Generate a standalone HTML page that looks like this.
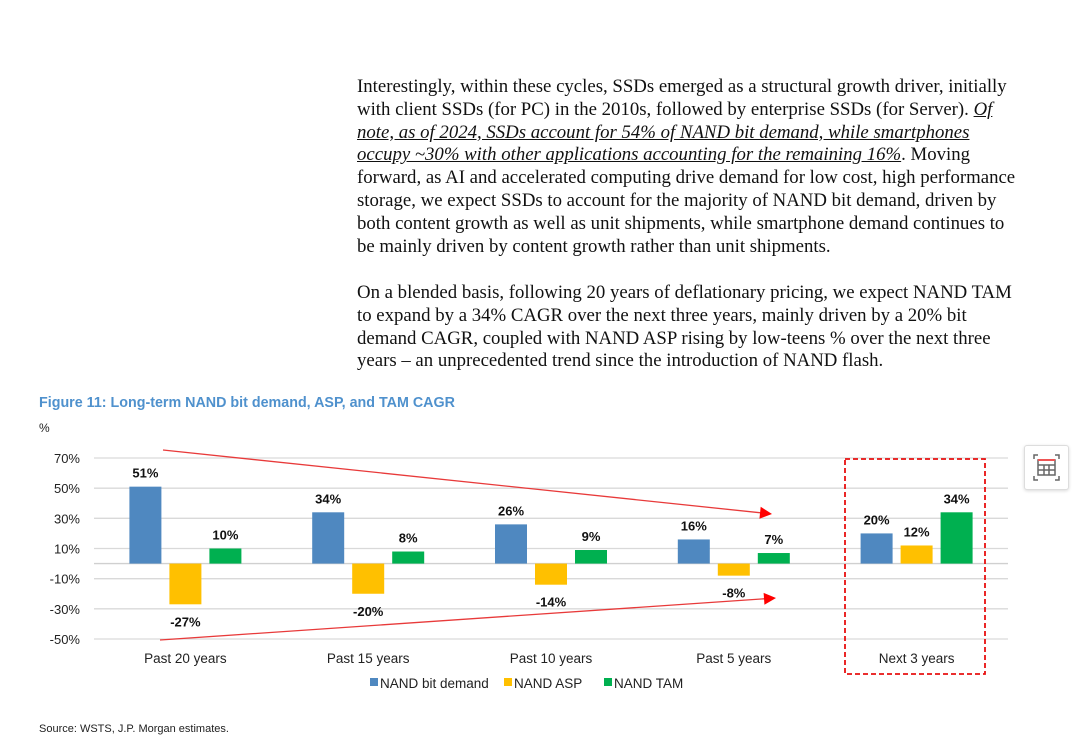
<!DOCTYPE html>
<html><head><meta charset="utf-8">
<style>
body{margin:0;width:1080px;height:755px;background:#fff;position:relative;overflow:hidden;font-family:"Liberation Sans",sans-serif}
.para{position:absolute;left:357px;font-family:"Liberation Serif",serif;font-size:18.8px;line-height:22.8px;color:#111;white-space:nowrap}
.u{font-style:italic;text-decoration:underline}
#title{position:absolute;left:39px;top:395px;font-size:14.3px;font-weight:bold;color:#4f91cd}
#pct{position:absolute;left:39px;top:421px;font-size:12px;color:#222}
#src{position:absolute;left:39px;top:723px;font-size:11px;color:#222}
#icon{position:absolute;left:1024px;top:445px;width:43px;height:43px;border:1px solid #ddd;border-radius:3px;box-shadow:0 1px 3px rgba(0,0,0,.15);background:#fff}
</style></head><body>
<div class="para" style="top:76px">Interestingly, within these cycles, SSDs emerged as a structural growth driver, initially<br>with client SSDs (for PC) in the 2010s, followed by enterprise SSDs (for Server). <span class="u">Of</span><br><span class="u">note, as of 2024, SSDs account for 54% of NAND bit demand, while smartphones</span><br><span class="u">occupy ~30% with other applications accounting for the remaining 16%</span>. Moving<br>forward, as AI and accelerated computing drive demand for low cost, high performance<br>storage, we expect SSDs to account for the majority of NAND bit demand, driven by<br>both content growth as well as unit shipments, while smartphone demand continues to<br>be mainly driven by content growth rather than unit shipments.</div>
<div class="para" style="top:282px">On a blended basis, following 20 years of deflationary pricing, we expect NAND TAM<br>to expand by a 34% CAGR over the next three years, mainly driven by a 20% bit<br>demand CAGR, coupled with NAND ASP rising by low-teens % over the next three<br>years – an unprecedented trend since the introduction of NAND flash.</div>
<div id="title">Figure 11: Long-term NAND bit demand, ASP, and TAM CAGR</div>
<div id="pct">%</div>
<div id="src">Source: WSTS, J.P. Morgan estimates.</div>
<div id="icon">
<svg width="43" height="43" viewBox="0 0 43 43"><g fill="none" stroke="#666" stroke-width="1.5"><path d="M9 13V9h4M30 9h4v4M34 30v4h-4M13 34H9v-4"/><rect x="13" y="14" width="17" height="15"/><path d="M13 19h17M13 24h17M19 19v10M24 19v10"/></g><path d="M13 14h17" stroke="#e55" stroke-width="2"/></svg>
</div>
<svg id="chart" width="1080" height="755" style="position:absolute;left:0;top:0"></svg>
<script>
const categories=["Past 20 years","Past 15 years","Past 10 years","Past 5 years","Next 3 years"];
const bitDemand=[51,34,26,16,20];
const asp=[-27,-20,-14,-8,12];
const tam=[10,8,9,7,34];
const ticks=[70,50,30,10,-10,-30,-50];
const seriesNames=["NAND bit demand","NAND ASP","NAND TAM"];
const colors=["#4f88c0","#ffc000","#00b050"];
const NS="http://www.w3.org/2000/svg";
const svg=document.getElementById('chart');
const x0=94,x1=1008,yTop=458,yBot=639,vMax=70,vMin=-50;
const y=v=>yTop+(vMax-v)*(yBot-yTop)/(vMax-vMin);
const bw=(x1-x0)/categories.length;
const cx=i=>x0+bw*(i+0.5);
function mk(t,a){const e=document.createElementNS(NS,t);for(const k in a)e.setAttribute(k,a[k]);svg.appendChild(e);return e;}
ticks.forEach(t=>{
 const g=mk('line',{x1:x0,x2:x1,y1:y(t),y2:y(t),stroke:'#d9d9d9','stroke-width':1.3});
 
 
 const l=mk('text',{x:80,y:y(t)+5,'text-anchor':'end','font-size':13,fill:'#222','font-family':'Liberation Sans'});
 l.textContent=t+'%';
 
 
});
const ax=mk('line',{x1:x0,x2:x1,y1:y(0),y2:y(0),stroke:'#d0d0d0','stroke-width':1.3});


const series=[bitDemand,asp,tam];
const offs=[-40,0,40],w=32;
categories.forEach((c,i)=>{
 const t=mk('text',{x:cx(i),y:663,'text-anchor':'middle','font-size':13.5,fill:'#222','font-family':'Liberation Sans'});
 t.textContent=c;
 
 
 series.forEach((s,k)=>{
  const v=s[i];const top=Math.min(y(v),y(0));const h=Math.abs(y(v)-y(0));
  const r=mk('rect',{x:cx(i)+offs[k]-w/2,y:top,width:w,height:h,fill:colors[k]});
  
  
  const lt=mk('text',{x:cx(i)+offs[k],y:v>=0?y(v)-9:y(v)+22,'text-anchor':'middle','font-size':13,'font-weight':'bold',fill:'#111','font-family':'Liberation Sans'});
  lt.textContent=v+'%';
  
  
 });
});
function arrow(ax1,ay1,ax2,ay2,name){
 const l=mk('line',{x1:ax1,y1:ay1,x2:ax2-10,y2:ay2-(ay2-ay1)/(ax2-ax1)*10,stroke:'#e83a3a','stroke-width':1.3});
 
 
 const a=Math.atan2(ay2-ay1,ax2-ax1);
 const p=[[ax2,ay2],[ax2-12*Math.cos(a)+6*Math.sin(a),ay2-12*Math.sin(a)-6*Math.cos(a)],[ax2-12*Math.cos(a)-6*Math.sin(a),ay2-12*Math.sin(a)+6*Math.cos(a)]];
 const h=mk('polygon',{points:p.map(q=>q.join(',')).join(' '),fill:'#ff0000'});
 
 
}
arrow(163,450,772,514,'upper-trend-arrow');
arrow(160,640,776,598,'lower-trend-arrow');
const box=mk('rect',{x:845,y:459,width:140,height:215,fill:'none',stroke:'#e81010','stroke-width':1.8,'stroke-dasharray':'5,3'});


const lx=[370,504,604];
seriesNames.forEach((n,k)=>{
 const r=mk('rect',{x:lx[k],y:678,width:8,height:8,fill:colors[k]});
 
 
 const t=mk('text',{x:lx[k]+10,y:688,'font-size':13.5,fill:'#222','font-family':'Liberation Sans'});
 t.textContent=n;
 
 
});
</script>
</body></html>
